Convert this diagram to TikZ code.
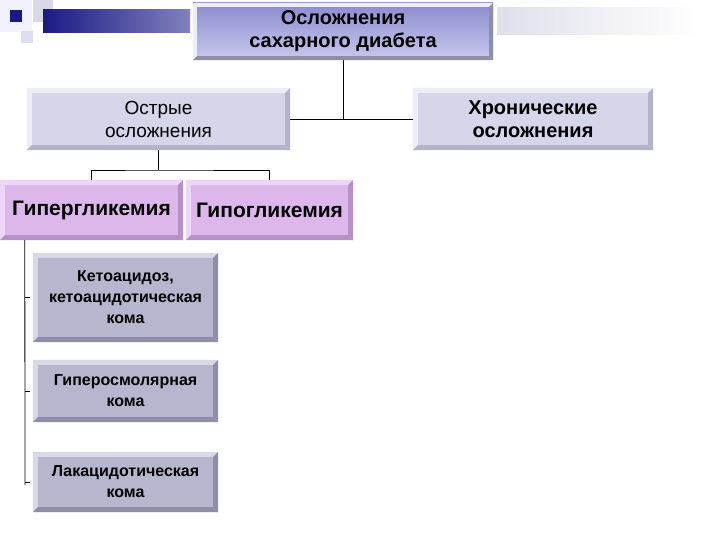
\documentclass[tikz,border=0pt]{standalone}
\usepackage{fontspec}
\setmainfont{Liberation Sans}
\definecolor{topA}{HTML}{8C8CD0}
\definecolor{topB}{HTML}{C8C8EC}
\definecolor{lvFace}{HTML}{D6D6EA}
\definecolor{lvLight}{HTML}{EEEEF7}
\definecolor{lvDark}{HTML}{B4B4C8}
\definecolor{pkFace}{HTML}{DDB6EC}
\definecolor{pkLight}{HTML}{EED6F6}
\definecolor{pkDark}{HTML}{B890C8}
\definecolor{gyFace}{HTML}{B6B6CE}
\definecolor{gyLight}{HTML}{D8D8E6}
\definecolor{gyDark}{HTML}{8E8EA6}
\definecolor{navy}{HTML}{1A1A86}
\newcommand{\bevel}[4]{%
  \fill[#3] (#1.north west) -- (#1.north east) -- ([xshift=-#2,yshift=-#2]#1.north east) -- ([xshift=#2,yshift=-#2]#1.north west) -- cycle;
  \fill[#3] (#1.north west) -- (#1.south west) -- ([xshift=#2,yshift=#2]#1.south west) -- ([xshift=#2,yshift=-#2]#1.north west) -- cycle;
  \fill[#4] (#1.south west) -- (#1.south east) -- ([xshift=-#2,yshift=#2]#1.south east) -- ([xshift=#2,yshift=#2]#1.south west) -- cycle;
  \fill[#4] (#1.north east) -- (#1.south east) -- ([xshift=-#2,yshift=#2]#1.south east) -- ([xshift=-#2,yshift=-#2]#1.north east) -- cycle;
}
\tikzset{
  box/.style={draw=none, inner sep=0pt, align=center, text=black},
  conn/.style={draw=black, line width=0.8pt}
}
\begin{document}
\begin{tikzpicture}[x=1pt, y=-1pt]
\useasboundingbox (0,0) rectangle (720,540);
\fill[white] (0,0) rectangle (720,540);
% decoration top-left
\fill[lvLight!80!blue!20] (0,0) rectangle (32,32);
\fill[gyLight] (33,0) rectangle (53,22);
\shade[left color=navy, right color=navy!55!white] (43,10) rectangle (190,33);
\fill[navy] (10,10) rectangle (22,22);
\fill[gyFace!80!blue!30] (21,31) rectangle (33,43);
% decoration top-right
\shade[left color=gyLight!80, right color=white] (497,8) rectangle (700,35);
% nodes
\node[box, minimum width=300pt, minimum height=57pt, top color=topA, bottom color=topB, font=\bfseries\fontsize{20}{23}\selectfont] (top) at (343,31.5) {Осложнения\\сахарного диабета};
\bevel{top}{4pt}{lvLight}{gyDark}
\node[box, minimum width=263pt, minimum height=62pt, fill=lvFace, font=\fontsize{19}{23}\selectfont] (acute) at (158.5,119) {Острые\\осложнения};
\bevel{acute}{5pt}{lvLight}{lvDark}
\node[box, minimum width=240pt, minimum height=62pt, fill=lvFace, font=\bfseries\fontsize{20}{23}\selectfont] (chronic) at (533,119) {Хронические\\осложнения};
\bevel{chronic}{5pt}{lvLight}{lvDark}
\node[box, minimum width=183pt, minimum height=60pt, fill=pkFace, font=\bfseries\fontsize{21}{24}\selectfont] (hyper) at (91.5,210) {Гипергликемия};
\bevel{hyper}{5pt}{pkLight}{pkDark}
\node[box, minimum width=167pt, minimum height=60pt, fill=pkFace, font=\bfseries\fontsize{21}{24}\selectfont] (hypo) at (269.5,210) {Гипогликемия};
\bevel{hypo}{5pt}{pkLight}{pkDark}
\node[box, minimum width=185pt, minimum height=89pt, fill=gyFace, font=\bfseries\fontsize{16}{21}\selectfont] (keto) at (125.5,297.5) {Кетоацидоз,\\кетоацидотическая\\кома};
\bevel{keto}{5pt}{gyLight}{gyDark}
\node[box, minimum width=185pt, minimum height=62pt, fill=gyFace, font=\bfseries\fontsize{16}{21}\selectfont] (osm) at (125.5,391) {Гиперосмолярная\\кома};
\bevel{osm}{5pt}{gyLight}{gyDark}
\node[box, minimum width=185pt, minimum height=60pt, fill=gyFace, font=\bfseries\fontsize{16}{21}\selectfont] (lact) at (125.5,482) {Лакацидотическая\\кома};
\bevel{lact}{5pt}{gyLight}{gyDark}
% connectors
\draw[conn] (top.south) -- (top.south |- acute.east);
\draw[conn] (acute.east) -- (chronic.west);
\coordinate (j2) at (158.5,170);
\draw[conn] (acute.south) -- (j2);
\draw[conn] (hyper.north) |- (j2) -| (hypo.north);
\coordinate (vb) at (25,485);
\draw[conn] ([xshift=25pt]hyper.south west) -- (vb);
\draw[conn] (keto.west -| vb) -- ([xshift=-3pt]keto.west);
\draw[conn] (osm.west -| vb) -- ([xshift=-3pt]osm.west);
\draw[conn] (lact.west -| vb) -- ([xshift=-3pt]lact.west);
\end{tikzpicture}
\end{document}
